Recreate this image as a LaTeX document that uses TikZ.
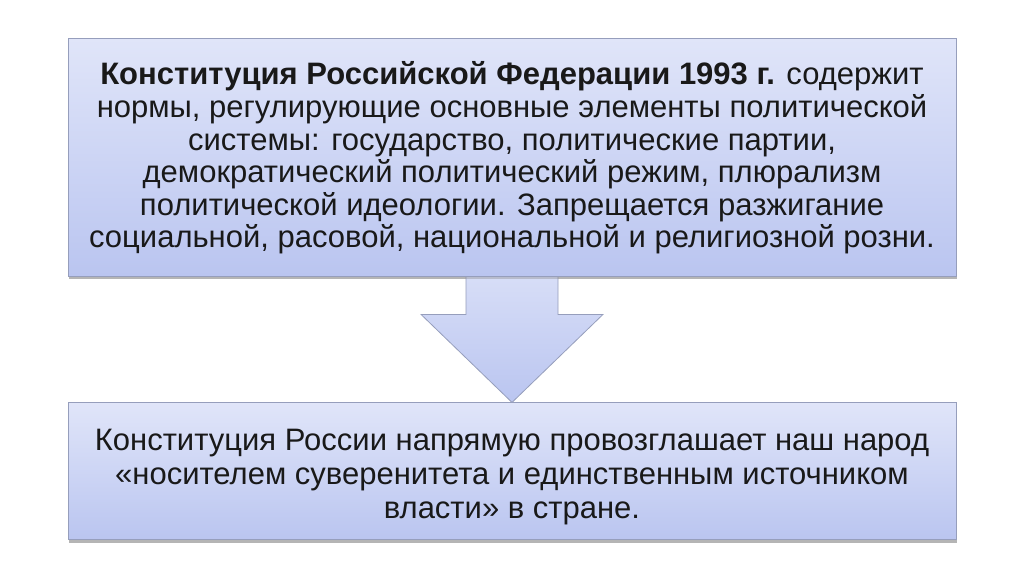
\documentclass[tikz,border=0pt]{standalone}
\usepackage{fontspec}
\setmainfont{Liberation Sans}
\usetikzlibrary{positioning}
\usetikzlibrary{calc}
\usetikzlibrary{shadows}

\definecolor{boxtop}{RGB}{224,229,249}
\definecolor{boxbot}{RGB}{186,197,240}
\definecolor{boxedge}{RGB}{150,158,188}

\tikzset{
	infobox/.style={draw=boxedge, line width=0.8pt, top color=boxtop, bottom color=boxbot,
		minimum width=888pt, align=center, inner sep=0pt,
		drop shadow={opacity=0.35, shadow xshift=1pt, shadow yshift=-3pt}},
	blockarrow/.style={draw=boxedge, line width=0.8pt, top color=boxtop!80!boxbot, bottom color=boxbot},
	boxtext/.style={align=center, text=black!90, execute at begin node={\lineskiplimit=-100pt}}
}

\begin{document}
\begin{tikzpicture}[x=1pt, y=-1pt]
	\useasboundingbox[fill=white] (0,0) rectangle (1024,574);
	% boxes
	\node[infobox, minimum height=238pt] (topbox) at (512,157) {};
	\node[infobox, minimum height=137pt, below=126pt of topbox] (botbox) {};
	% arrow between the boxes
	\draw[blockarrow] ($(topbox.south)+(-46,-6)$) -- ($(topbox.south)+(46,-6)$)
		-- ($(topbox.south)+(46,38)$) -- ($(topbox.south)+(91,38)$)
		-- (botbox.north)
		-- ($(topbox.south)+(-91,38)$) -- ($(topbox.south)+(-46,38)$) -- cycle;
	\node[infobox, minimum height=238pt] at (topbox) {};
	\node[infobox, minimum height=137pt] at (botbox) {};
	% texts
	\node[boxtext, font=\fontsize{31}{32.6}\selectfont] (toptext) at ($(topbox)+(0,1)$)
		{\textbf{Конституция Российской Федерации 1993 г.} содержит\\
		нормы, регулирующие основные элементы политической\\
		системы: государство, политические партии,\\
		демократический политический режим, плюрализм\\
		политической идеологии. Запрещается разжигание\\
		социальной, расовой, национальной и религиозной розни.};
	\node[boxtext, font=\fontsize{31}{34}\selectfont] (bottext) at ($(botbox)+(0,6)$)
		{Конституция России напрямую провозглашает наш народ\\
		«носителем суверенитета и единственным источником\\
		власти» в стране.};
\end{tikzpicture}
\end{document}
